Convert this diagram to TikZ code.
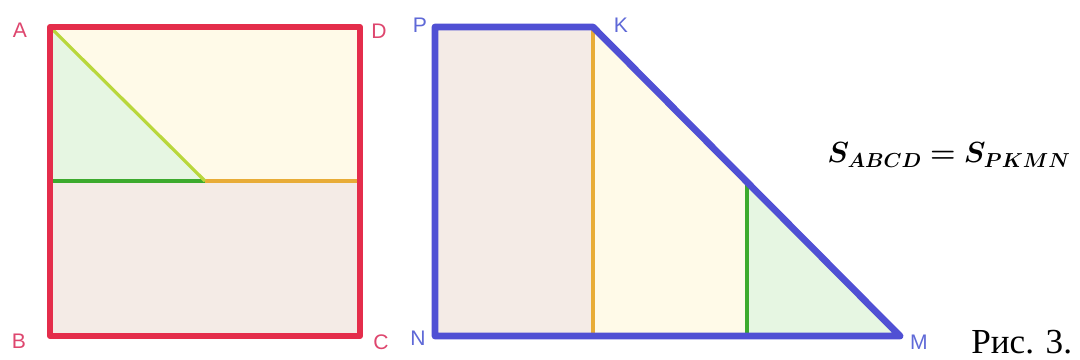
\documentclass[tikz,border=0pt]{standalone}
\usepackage{fontspec}
\usepackage{amsmath,bm}
\newfontfamily\labelfont{Liberation Sans}
\newfontfamily\capfont{Liberation Serif}
\usetikzlibrary{positioning}
\definecolor{figRojo}{RGB}{228,45,75}
\definecolor{figAzul}{RGB}{80,80,212}
\definecolor{etRojo}{RGB}{222,70,110}
\definecolor{etAzul}{RGB}{95,105,215}
\definecolor{lnVerde}{RGB}{60,170,45}
\definecolor{lnLima}{RGB}{185,215,60}
\definecolor{lnNaranja}{RGB}{232,172,55}
\definecolor{fAmarillo}{RGB}{255,250,232}
\definecolor{fVerde}{RGB}{230,246,226}
\definecolor{fMarron}{RGB}{244,235,230}

\begin{document}
\begin{tikzpicture}[x=0.025cm, y=-0.025cm,
     borde/.style={line width=4.2pt, line join=round, line cap=round},
     linea/.style={line width=2.3pt},
     etq/.style={font=\labelfont\fontsize{15}{15}\selectfont, inner sep=0pt}]
    \useasboundingbox (0,0) rectangle (1080,360);
    \coordinate (A) at (50,27);
    \coordinate (D) at (360,27);
    \coordinate (B) at (50,336);
    \coordinate (C) at (360,336);
    \coordinate (E) at (50,181);
    \coordinate (F) at (205,181);
    \coordinate (G) at (360,181);
    \coordinate (P) at (435,27);
    \coordinate (K) at (593,27);
    \coordinate (M) at (900,336);
    \coordinate (N) at (435,336);
    \coordinate (L) at (593,336);
    \coordinate (Q) at (747,183);
    \coordinate (R) at (747,336);
    \fill[fAmarillo] (A) -- (D) -- (G) -- (E) -- cycle;
    \fill[fVerde] (A) -- (F) -- (E) -- cycle;
    \fill[fMarron] (E) -- (G) -- (C) -- (B) -- cycle;
    \fill[fMarron] (P) -- (K) -- (L) -- (N) -- cycle;
    \fill[fAmarillo] (K) -- (Q) -- (R) -- (L) -- cycle;
    \fill[fVerde] (Q) -- (M) -- (R) -- cycle;
    \draw[linea, lnVerde] (E) -- (F);
    \draw[linea, lnNaranja] (F) -- (G);
    \draw[linea, lnLima] (A) -- (F);
    \draw[linea, lnNaranja] (K) -- (L);
    \draw[linea, lnVerde] (Q) -- (R);
    \draw[borde, figRojo] (A) -- (D) -- (C) -- (B) -- cycle;
    \draw[borde, figAzul, line width=4.8pt] (P) -- (K) -- (M) -- (N) -- cycle;
    \node[etq, etRojo] (lA) at (20,30) {A};
    \node[etq, etRojo] (lD) at (379,31) {D};
    \node[etq, etRojo] (lB) at (19,341) {B};
    \node[etq, etRojo] (lC) at (381,342) {C};
    \node[etq, etAzul] (lP) at (420,25) {P};
    \node[etq, etAzul] (lK) at (621,25) {K};
    \node[etq, etAzul] (lN) at (418,338) {N};
    \node[etq, etAzul] (lM) at (919,342) {M};
    \node[inner sep=0pt, font=\fontsize{21}{21}\selectfont] (igual) at (949,155)
       {$\bm{S_{ABCD} = S_{PKMN}}$};
    \node[inner sep=0pt, anchor=base west, font=\capfont\fontsize{25}{25}\selectfont]
       (pie) at (971,353) {Рис. 3.};
\end{tikzpicture}
\end{document}
